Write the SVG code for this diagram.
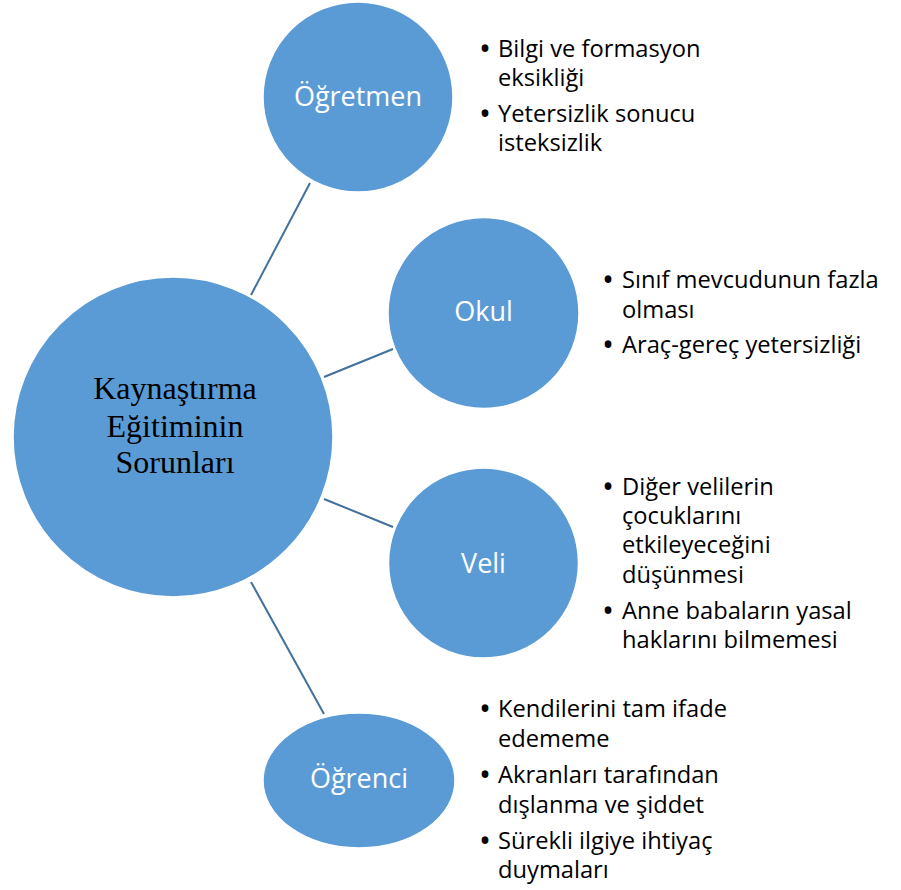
<svg xmlns="http://www.w3.org/2000/svg" width="901" height="890" viewBox="0 0 901 890">
<style>
.node{fill:#5B9BD5;stroke:#ffffff;stroke-width:1.5}
.lbl{font-family:"Open Sans","Noto Sans","DejaVu Sans",sans-serif;font-size:27px;fill:#ffffff;text-anchor:middle}
.main{font-family:"Liberation Serif","Times New Roman",serif;font-size:32px;fill:#000000;text-anchor:middle}
.b{font-family:"Open Sans","Noto Sans","DejaVu Sans",sans-serif;font-size:23.7px;fill:#000000}
.dot{font-family:"Open Sans","Noto Sans","DejaVu Sans",sans-serif;font-size:32px;fill:#000000}
.conn line{stroke:#41719C;stroke-width:2}
</style>
<rect width="901" height="890" fill="#ffffff"/>
<g id="connectors" class="conn">
<line x1="310" y1="183" x2="251" y2="295"/>
<line x1="324" y1="377" x2="393" y2="349"/>
<line x1="324" y1="499" x2="393" y2="527"/>
<line x1="251" y1="582" x2="324" y2="714"/>
</g>
<g id="center">
<circle class="node" cx="173" cy="437" r="160"/>
<text class="main" x="175" y="399">Kaynaştırma</text>
<text class="main" x="175" y="437">Eğitiminin</text>
<text class="main" x="175" y="473">Sorunları</text>
</g>
<g id="ogretmen">
<circle class="node" cx="358" cy="97" r="95"/>
<text class="lbl" x="358" y="106">Öğretmen</text>
<text class="dot" x="479" y="60">•</text>
<text class="b" x="498" y="57">Bilgi ve formasyon</text>
<text class="b" x="498" y="86">eksikliği</text>
<text class="dot" x="479" y="125">•</text>
<text class="b" x="498" y="122">Yetersizlik sonucu</text>
<text class="b" x="498" y="151">isteksizlik</text>
</g>
<g id="okul">
<circle class="node" cx="483.5" cy="313" r="95.5"/>
<text class="lbl" x="483.5" y="321">Okul</text>
<text class="dot" x="602" y="291">•</text>
<text class="b" x="622" y="288">Sınıf mevcudunun fazla</text>
<text class="b" x="622" y="318">olması</text>
<text class="dot" x="602" y="356">•</text>
<text class="b" x="622" y="353">Araç-gereç yetersizliği</text>
</g>
<g id="veli">
<circle class="node" cx="483.5" cy="563" r="95"/>
<text class="lbl" x="483.5" y="573">Veli</text>
<text class="dot" x="602" y="498">•</text>
<text class="b" x="622" y="495">Diğer velilerin</text>
<text class="b" x="622" y="524">çocuklarını</text>
<text class="b" x="622" y="553">etkileyeceğini</text>
<text class="b" x="622" y="583">düşünmesi</text>
<text class="dot" x="602" y="622">•</text>
<text class="b" x="622" y="619">Anne babaların yasal</text>
<text class="b" x="622" y="648">haklarını bilmemesi</text>
</g>
<g id="ogrenci">
<ellipse class="node" cx="359" cy="780.5" rx="96" ry="67.5"/>
<text class="lbl" x="359" y="788">Öğrenci</text>
<text class="dot" x="479" y="720">•</text>
<text class="b" x="498" y="717">Kendilerini tam ifade</text>
<text class="b" x="498" y="747">edememe</text>
<text class="dot" x="479" y="786">•</text>
<text class="b" x="498" y="783">Akranları tarafından</text>
<text class="b" x="498" y="813">dışlanma ve şiddet</text>
<text class="dot" x="479" y="852">•</text>
<text class="b" x="498" y="849">Sürekli ilgiye ihtiyaç</text>
<text class="b" x="498" y="878">duymaları</text>
</g>
</svg>
